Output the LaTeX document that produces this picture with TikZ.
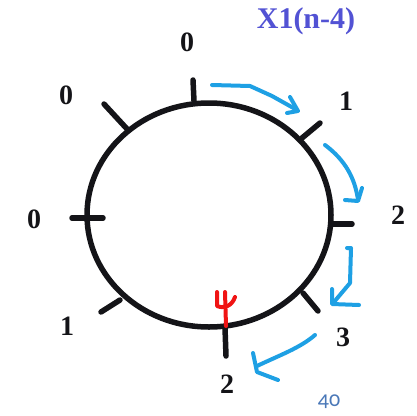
\documentclass[tikz,border=0pt]{standalone}
\usepackage{fontspec}
\setmainfont{Liberation Serif}
\newfontfamily\labelsans[Numbers=OldStyle]{Carlito}
\definecolor{inkblack}{RGB}{20,20,24}
\definecolor{arrowblue}{RGB}{30,160,228}
\definecolor{titleblue}{RGB}{82,82,212}
\definecolor{pageblue}{RGB}{74,120,184}
\definecolor{inkred}{RGB}{240,20,20}
\tikzset{
  ring/.style={line width=5.5pt, draw=inkblack},
  tick/.style={line width=5.5pt, draw=inkblack, line cap=round},
  bitlabel/.style={font=\bfseries\fontsize{28}{28}\selectfont, text=inkblack, inner sep=0pt},
  flow/.style={line width=4pt, draw=arrowblue, line cap=round, line join=round},
  redink/.style={line width=4pt, draw=inkred, line cap=round, line join=round},
}
\begin{document}
\begin{tikzpicture}[x=1pt,y=-1pt]
\useasboundingbox (0,0) rectangle (417,415);
\fill[white] (0,0) rectangle (417,415);
% ring
\draw[ring] (209,215) ellipse [x radius=122, y radius=112];
% ticks
\draw[tick] (193,80) -- (194,101);
\draw[tick] (302,138) -- (320,123);
\draw[tick] (331,224) -- (352,224);
\draw[tick] (303,293) -- (318,311);
\draw[tick] (225,328) -- (226,356);
\draw[tick] (120,300) -- (101,312);
\draw[tick] (72,218) -- (103,218);
\draw[tick] (128,130) -- (104,104);
% labels
\node[bitlabel] (l0) at (187,42) {0};
\node[bitlabel] (l1) at (346,101) {1};
\node[bitlabel] (l2) at (398,215) {2};
\node[bitlabel] (l3) at (343,337) {3};
\node[bitlabel] (l4) at (227,384) {2};
\node[bitlabel] (l5) at (67,326) {1};
\node[bitlabel] (l6) at (34,219) {0};
\node[bitlabel] (l7) at (66,95) {0};
% title
\node[font=\bfseries\fontsize{30}{30}\selectfont, text=titleblue, inner sep=0pt] (title) at (306,21) {X1(n-4)};
% page number
\node[font=\labelsans\fontsize{22}{22}\selectfont, text=pageblue, inner sep=0pt] (page) at (329,402) {40};
% blue arrows
\draw[flow] (212,85) -- (250,86) -- (272,96) -- (297,110);
\draw[flow] (290,97) -- (298,111) -- (287,113);
\draw[flow] (325,145) .. controls (345,160) and (355,178) .. (358,200);
\draw[flow] (362,188) -- (358,201) -- (345,200);
\draw[flow] (347,248) -- (351,248) -- (350,283) -- (334,302);
\draw[flow] (332,289) -- (332,304) -- (359,305);
\draw[flow] (315,335) .. controls (300,348) and (280,355) .. (257,366);
\draw[flow] (253,353) -- (257,372) -- (278,380);
% red handwritten mark
\draw[redink] (217,292) -- (217,306) .. controls (224,309) and (232,306) .. (235,297);
\draw[redink] (225,292) -- (226,326);
\end{tikzpicture}
\end{document}
